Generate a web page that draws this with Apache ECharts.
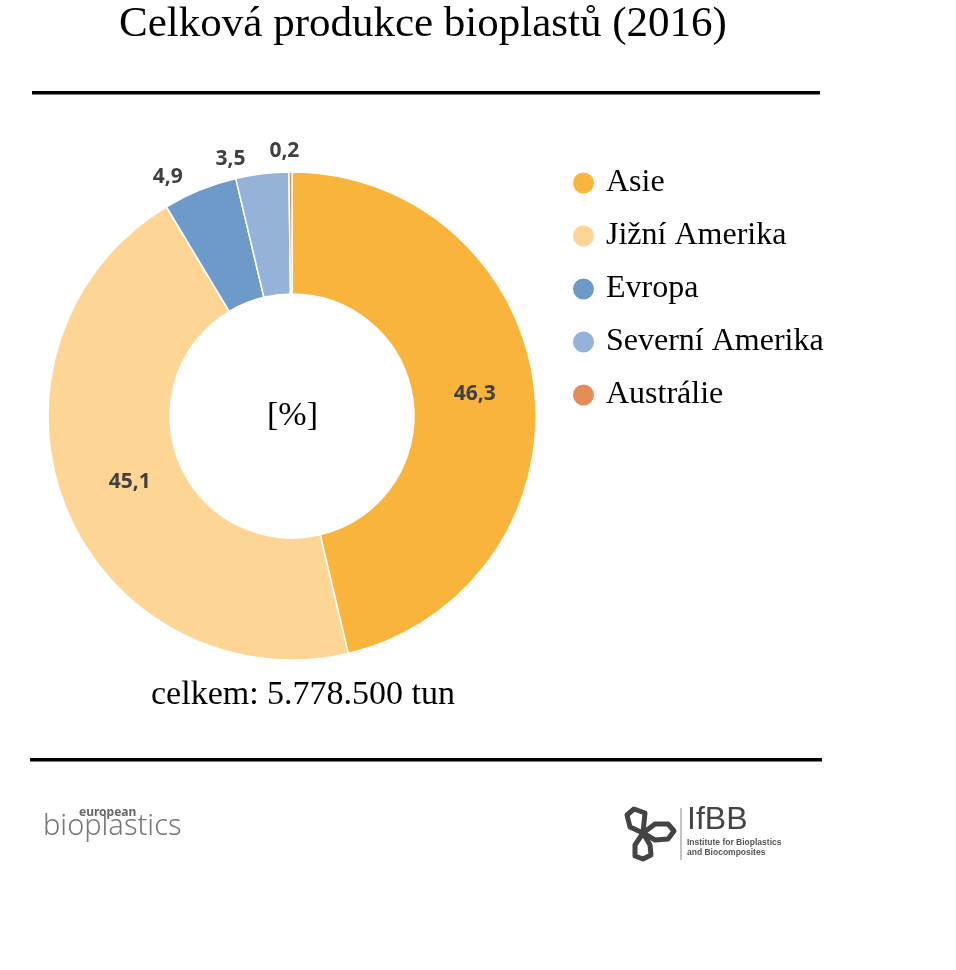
<!DOCTYPE html>
<html><head><meta charset="utf-8">
<script src="https://cdn.jsdelivr.net/npm/echarts@6/dist/echarts.min.js"></script>
<style>html,body{margin:0;padding:0;background:#fff}#c{width:956px;height:970px}</style>
</head><body><div id="c"></div>
<script>
const categories = ['Asie', 'Jižní Amerika', 'Evropa', 'Severní Amerika', 'Austrálie'];
const values = [46.3, 45.1, 4.9, 3.5, 0.2];
const colors = ['#F8B43B', '#FDD595', '#6D9AC9', '#95B3D9', '#E38C55'];
const insideLabel = [true, true, false, false, false];

const chart = echarts.init(document.getElementById('c'));
const serif = '"Liberation Serif", "Times New Roman", serif';
// small label nudges (pixels) to mimic the original label placement
const nudge = { 0: [-2, 0], 1: [10, -4], 2: [-7, 0], 3: [-10, -1], 4: [14, -7] };
const data = categories.map((n, i) => ({
  name: n, value: values[i],
  itemStyle: { color: colors[i] },
  label: insideLabel[i] ? { position: 'inside' } : { position: 'outside' },
  labelLine: { show: false, length: 14, length2: 0 }
}));
chart.setOption({
  animation: false,
  title: {
    text: 'Celková produkce bioplastů (2016)',
    left: 418, top: -2, textAlign: 'center',
    textStyle: { fontFamily: serif, fontSize: 43, fontWeight: 'normal', color: '#000' }
  },
  legend: {
    orient: 'vertical', left: 566, top: 162,
    icon: 'circle', itemWidth: 23, itemHeight: 23, itemGap: 21,
    textStyle: { fontFamily: serif, fontSize: 32, color: '#000', padding: [0, 0, 0, 6] },
    data: categories
  },
  series: [{
    type: 'pie',
    center: [292, 416],
    radius: [122, 244],
    startAngle: 90,
    clockwise: true,
    avoidLabelOverlap: false,
    itemStyle: { borderColor: '#fff', borderWidth: 1.5 },
    label: {
      show: true,
      formatter: p => String(p.value).replace('.', ','),
      fontFamily: '"Open Sans", "Noto Sans", sans-serif',
      fontWeight: 'bold', fontSize: 21, color: '#404040'
    },
    labelLayout: p => {
      const n = nudge[p.dataIndex];
      return n ? { dx: n[0], dy: n[1] } : {};
    },
    emphasis: { disabled: true },
    data: data
  }],
  graphic: [
    { type: 'rect', shape: { x: 32, y: 91, width: 788, height: 3.5 }, style: { fill: '#000' } },
    { type: 'rect', shape: { x: 30, y: 758, width: 792, height: 3.5 }, style: { fill: '#000' } },
    { type: 'text', left: 267, top: 399, style: { text: '[%]', font: '34px ' + serif, fill: '#000' } },
    { type: 'text', left: 151, top: 678, style: { text: 'celkem: 5.778.500 tun', font: '34px ' + serif, fill: '#000' } },
    { type: 'text', left: 79, top: 807, style: { text: 'european', font: 'bold 12px "Noto Sans", sans-serif', fill: '#666' } },
    { type: 'text', left: 43, top: 812, style: { text: 'bioplastics', font: '300 29px "Noto Sans", sans-serif', fill: '#777' } },
    { type: 'line', shape: { x1: 681, y1: 808, x2: 681, y2: 860 }, style: { stroke: '#888', lineWidth: 1 } },
    { type: 'text', left: 687, top: 804, style: { text: 'IfBB', font: '32px "Liberation Sans", Arial, sans-serif', fill: '#444' } },
    { type: 'text', left: 687, top: 838, style: { text: 'Institute for Bioplastics\nand Biocomposites', font: 'bold 8.5px "Liberation Sans", Arial, sans-serif', fill: '#555', lineHeight: 10 } },
    { type: 'polygon', shape: { points: [[643,833],[630,827],[627,815],[634,809],[645,813]] }, style: { fill: 'none', stroke: '#444', lineWidth: 5, lineJoin: 'round' } },
    { type: 'polygon', shape: { points: [[643,833],[655,824],[668,824],[674,831],[668,839],[655,840]] }, style: { fill: 'none', stroke: '#444', lineWidth: 5, lineJoin: 'round' } },
    { type: 'polygon', shape: { points: [[643,833],[650,845],[651,855],[643,859],[635,856],[635,845]] }, style: { fill: 'none', stroke: '#444', lineWidth: 5, lineJoin: 'round' } }
  ]
});
</script></body></html>
